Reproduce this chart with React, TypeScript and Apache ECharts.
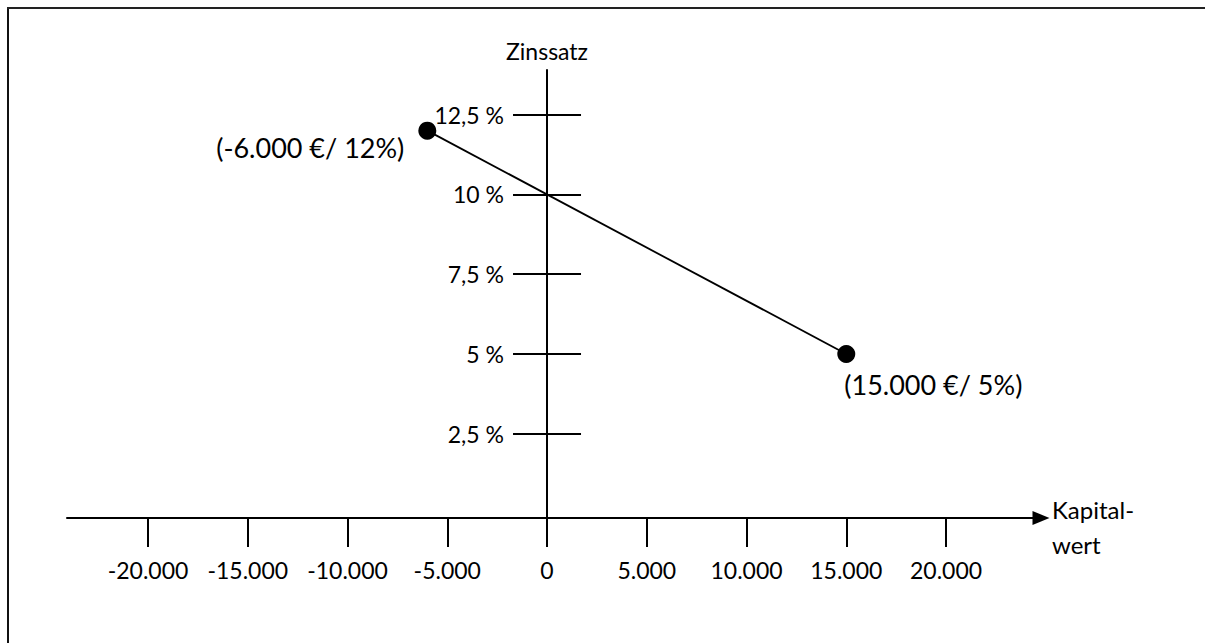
import React, { useEffect, useRef } from "react";
import * as echarts from "echarts";

// ---- data ----
const kapitalwerte = [-6000, 15000];
const zinssaetze = [12, 5];
const pointLabels = ["(-6.000 €/ 12%)", "(15.000 €/ 5%)"];

const xTickValues = [-20000, -15000, -10000, -5000, 0, 5000, 10000, 15000, 20000];
const xTickLabels = ["-20.000", "-15.000", "-10.000", "-5.000", "0", "5.000", "10.000", "15.000", "20.000"];
const yTickValues = [2.5, 5, 7.5, 10, 12.5];
const yTickLabels = ["2,5 %", "5 %", "7,5 %", "10 %", "12,5 %"];

const X_MIN = -24060;
const X_MAX = 24760;
const Y_MIN = -0.14;
const Y_MAX = 13.9;

const FONT = "Lato";

export default function App() {
  const ref = useRef<HTMLDivElement>(null);

  useEffect(() => {
    document.body.style.margin = "0";
    document.body.style.overflow = "hidden";
    if (!ref.current) return;
    const chart = echarts.init(ref.current, undefined, { renderer: "svg" });

    const W = 1205;
    const gridLeft = 67;
    const gridRight = 164;
    const gridWidth = W - gridLeft - gridRight;
    const yAxisOffset = -(gridWidth * (0 - X_MIN)) / (X_MAX - X_MIN);

    const xLabelFmt = (v: number) => {
      const i = xTickValues.indexOf(v);
      return i >= 0 ? xTickLabels[i] : "";
    };
    const yLabelFmt = (v: number) => {
      const i = yTickValues.indexOf(v);
      return i >= 0 ? yTickLabels[i] : "";
    };

    const data = kapitalwerte.map((k, i) => ({
      value: [k, zinssaetze[i]],
      label:
        i === 0
          ? { show: true, position: "left", distance: 14, offset: [0, 17], formatter: pointLabels[i] }
          : { show: true, position: "bottom", align: "left", distance: 8, offset: [-2, 0], formatter: pointLabels[i] },
    }));

    chart.setOption({
      animation: false,
      backgroundColor: "#fff",
      grid: { left: gridLeft, right: gridRight, top: 70, bottom: 125, containLabel: false, outerBoundsMode: "none" },
      graphic: [
        {
          type: "line",
          shape: { x1: 8, y1: 7, x2: 8, y2: 643 },
          style: { stroke: "#111", lineWidth: 2 },
          silent: true,
        },
        {
          type: "line",
          shape: { x1: 7, y1: 8, x2: 1205, y2: 8 },
          style: { stroke: "#222", lineWidth: 2 },
          silent: true,
        },
      ],
      xAxis: [
        {
          type: "value",
          min: X_MIN,
          max: X_MAX,
          position: "bottom",
          axisLine: {
            show: true,
            onZero: false,
            symbol: ["none", "triangle"],
            symbolSize: [14, 17],
            lineStyle: { color: "#000", width: 2 },
          },
          axisTick: {
            show: true,
            customValues: xTickValues,
            length: 29,
            lineStyle: { color: "#000", width: 2 },
          },
          axisLabel: {
            show: true,
            customValues: xTickValues,
            formatter: xLabelFmt,
            margin: 40,
            fontFamily: FONT,
            fontSize: 23,
            color: "#000",
          },
          splitLine: { show: false },
        },
        {
          type: "value",
          min: X_MIN,
          max: X_MAX,
          position: "bottom",
          offset: 9,
          name: "Kapital-\nwert",
          nameLocation: "end",
          nameGap: 11,
          nameTextStyle: {
            fontFamily: FONT,
            fontSize: 24,
            color: "#000",
            align: "left",
            lineHeight: 35,
          },
          axisLine: { show: false, onZero: false },
          axisTick: { show: false },
          axisLabel: { show: false },
          splitLine: { show: false },
        },
      ],
      yAxis: [
        {
          type: "value",
          min: Y_MIN,
          max: Y_MAX,
          position: "left",
          offset: yAxisOffset,
          name: "Zinssatz",
          nameLocation: "end",
          nameGap: 8,
          nameTextStyle: { fontFamily: FONT, fontSize: 23, color: "#000" },
          axisLine: { show: true, onZero: false, lineStyle: { color: "#000", width: 2 } },
          axisTick: {
            show: true,
            customValues: yTickValues,
            length: 34,
            lineStyle: { color: "#000", width: 2 },
          },
          axisLabel: {
            show: true,
            customValues: yTickValues,
            formatter: yLabelFmt,
            margin: 43,
            fontFamily: FONT,
            fontSize: 23,
            color: "#000",
          },
          splitLine: { show: false },
        },
        {
          type: "value",
          min: Y_MIN,
          max: Y_MAX,
          position: "left",
          offset: yAxisOffset,
          axisLine: { show: false, onZero: false },
          axisTick: {
            show: true,
            inside: true,
            customValues: yTickValues,
            length: 34,
            lineStyle: { color: "#000", width: 2 },
          },
          axisLabel: { show: false },
          splitLine: { show: false },
        },
      ],
      series: [
        {
          type: "line",
          xAxisIndex: 0,
          yAxisIndex: 0,
          data,
          symbol: "circle",
          symbolSize: 18,
          itemStyle: { color: "#000" },
          lineStyle: { color: "#000", width: 1.8 },
          label: { fontFamily: FONT, fontSize: 27, color: "#000" },
          z: 5,
        },
      ],
    });

    return () => chart.dispose();
  }, []);

  return <div ref={ref} style={{ width: 1205, height: 643 }} />;
}
